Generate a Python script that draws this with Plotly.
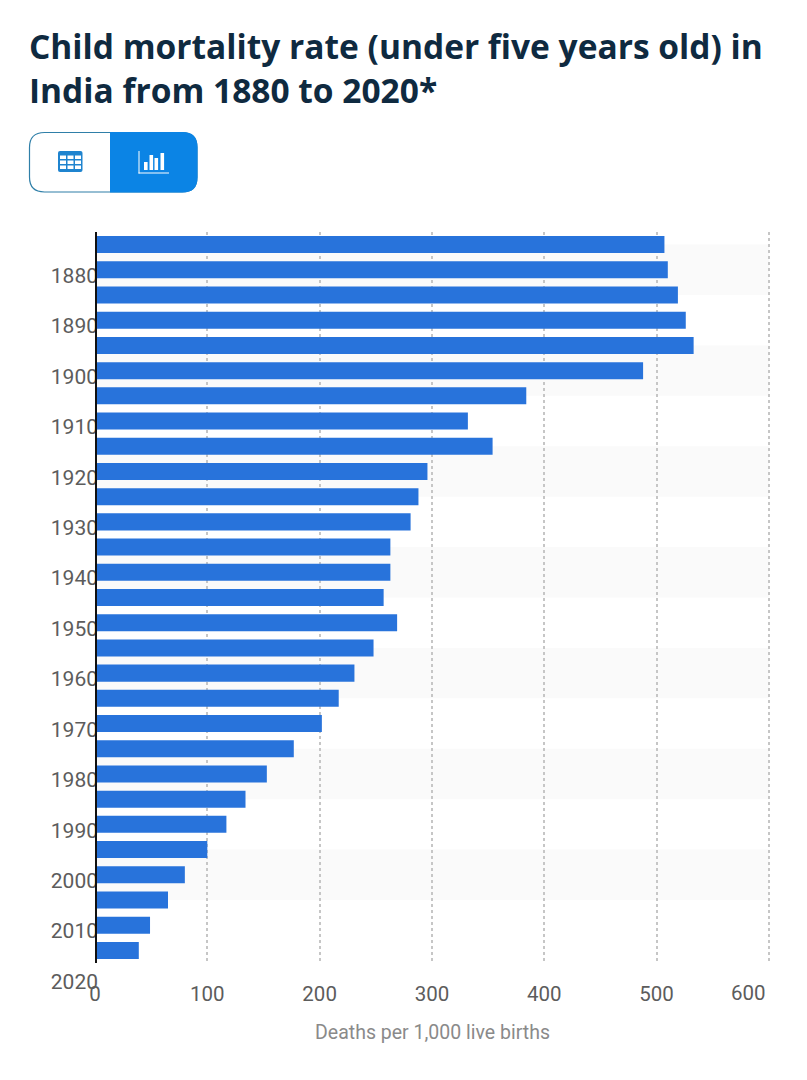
import plotly.graph_objects as go

title_text = "Child mortality rate (under five years old) in<br>India from 1880 to 2020*"
x_title = "Deaths per 1,000 live births"

years = [str(y) for y in range(1880, 2021, 5)]
deaths = [507, 510, 519, 526, 533, 488, 384, 332, 354, 296, 288, 281, 263, 263, 257,
          269, 248, 231, 217, 202, 177, 153, 134, 117, 100, 80, 65, 49, 39]
year_ticks = years[::2]
x_ticks = [0, 100, 200, 300, 400, 500, 600]
x_tick_labels = ["0", "100", "200", "300", "400", "500", ""]  # 600 is pulled inwards, see annotation

W = 807
H = 1080
left, right, top, bottom = 95, 770, 232, 963
x_max = 601  # a bit over 600, otherwise the last gridline gets dropped


# pixel position on the page -> paper coordinates
def px(x):
    return (x - left) / (right - left)


def py(y):
    return (bottom - y) / (bottom - top)


def round_rect(x0, y0, x1, y1, rl, rr):
    # rl / rr = corner radius on the left and right side
    return (f"M{px(x0 + rl)},{py(y0)} L{px(x1 - rr)},{py(y0)} "
            f"Q{px(x1)},{py(y0)} {px(x1)},{py(y0 + rr)} L{px(x1)},{py(y1 - rr)} "
            f"Q{px(x1)},{py(y1)} {px(x1 - rr)},{py(y1)} L{px(x0 + rl)},{py(y1)} "
            f"Q{px(x0)},{py(y1)} {px(x0)},{py(y1 - rl)} L{px(x0)},{py(y0 + rl)} "
            f"Q{px(x0)},{py(y0)} {px(x0 + rl)},{py(y0)} Z")


def paper_path(path, fill, line=None, width=0):
    return dict(type="path", xref="paper", yref="paper", path=path, fillcolor=fill,
                line=dict(color=line, width=width) if line else dict(width=0))


def paper_rect(x0, y0, x1, y1, fill):
    return dict(type="rect", xref="paper", yref="paper", x0=px(x0), x1=px(x1), y0=py(y0), y1=py(y1),
                fillcolor=fill, line=dict(width=0))


fig = go.Figure()
fig.add_trace(go.Bar(y=years, x=deaths, orientation="h", marker=dict(color="#2873db", line=dict(width=0)),
                     hoverinfo="skip"))

shapes = []
# grey bands behind the bars
for i in range(0, 26, 4):
    shapes.append(dict(type="rect", xref="x", yref="y", x0=0, x1=600, y0=i, y1=i + 2,
                       fillcolor="#fafafa", line=dict(width=0), layer="below"))

# black axis line, sits a little right of x=0 like in the original
shapes.append(paper_rect(95, top, 97, bottom, "#111111"))

# table / chart toggle
shapes.append(paper_path(round_rect(29.5, 132.5, 197, 192, 15, 15), "#ffffff", "#2f7fa8", 1.2))
shapes.append(paper_path(round_rect(110, 132, 197.5, 192.5, 0, 15), "#0b84e5"))
# table icon
shapes.append(paper_path(round_rect(58, 151, 82.5, 172, 2, 2), "#1f84cf"))
for cx in [60, 67.5, 75]:
    for cy in [155.5, 160.5, 165.5]:
        shapes.append(paper_rect(cx, cy, cx + 6, cy + 3.5, "#ffffff"))
# chart icon
shapes.append(paper_rect(138.5, 151, 139.5, 173.5, "#ffffff"))
shapes.append(paper_rect(138.5, 172.5, 169, 173.5, "#ffffff"))
for bx, by in [(144, 162), (149.5, 155), (154.5, 158), (160.5, 153)]:
    shapes.append(paper_rect(bx, by, bx + 3.6, 170, "#ffffff"))

fig.update_layout(
    width=W,
    height=H,
    margin=dict(l=left, r=W - right, t=top, b=H - bottom, autoexpand=False),
    paper_bgcolor="white",
    plot_bgcolor="white",
    showlegend=False,
    bargap=0.325,
    font=dict(family="Roboto", color="#5c5c5c", size=20.5),
    shapes=shapes,
    annotations=[
        dict(text="<b>" + title_text + "</b>", xref="paper", yref="paper", x=px(27), y=py(21), xanchor="left",
             yanchor="top", align="left", showarrow=False,
             font=dict(family="Open Sans", size=33.5, color="#0f2a40")),
        dict(text="600", xref="paper", yref="paper", x=px(768), y=py(992.5), xanchor="right", yanchor="middle",
             showarrow=False, font=dict(size=20.5, color="#5c5c5c")),
    ],
)
fig.update_xaxes(
    range=[0, x_max], tickmode="array", tickvals=x_ticks, ticktext=x_tick_labels, showgrid=True,
    gridcolor="#c6c6c6", griddash="dot", gridwidth=1.5,
    zeroline=False, showline=False, ticks="", tickfont=dict(size=20.5, color="#5c5c5c"), ticklabelstandoff=16,
    title=dict(text=x_title, font=dict(size=19.5, color="#8a8a8a"), standoff=20),
)
fig.update_yaxes(
    type="category", categoryorder="array", categoryarray=years, range=[28.5, -0.5],
    tickmode="array", tickvals=year_ticks, ticktext=year_ticks, showgrid=False, zeroline=False,
    showline=False, ticks="", tickfont=dict(size=21, color="#5c5c5c"),
    ticklabelshift=-31, ticklabelstandoff=-4,
)

fig.write_html("out.html", config=dict(displayModeBar=False), post_script="document.body.style.margin='0';")
